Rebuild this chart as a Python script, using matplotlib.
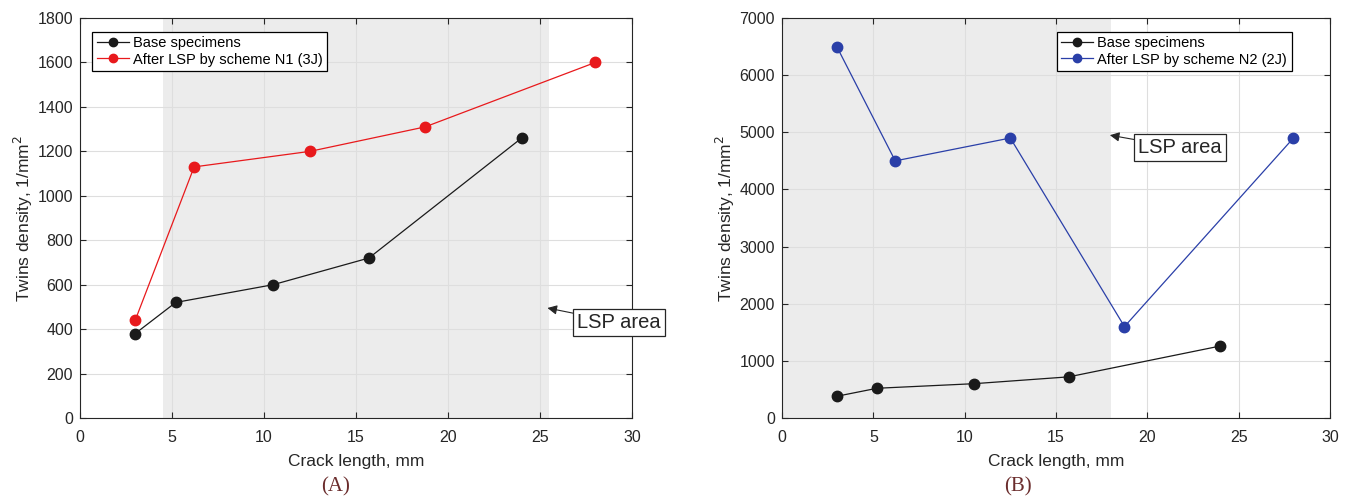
import matplotlib
matplotlib.use("Agg")
import matplotlib.pyplot as plt

# --- datos ---
crack_base = [3, 5.2, 10.5, 15.7, 24]
twins_base = [380, 520, 600, 720, 1260]

crack_lsp = [3, 6.2, 12.5, 18.75, 28]
twins_n1 = [440, 1130, 1200, 1310, 1600]
twins_n2 = [6500, 4500, 4900, 1600, 4900]

lsp_area_a = (4.5, 25.5)
lsp_area_b = (0, 18)

x_ticks = [0, 5, 10, 15, 20, 25, 30]
y_ticks_a = list(range(0, 1801, 200))
y_ticks_b = list(range(0, 7001, 1000))

INK = "#262626"
SHADE = "#ececec"
GRID = "#dedede"
BLACK = "#1a1a1a"
RED = "#e8191c"
BLUE = "#2a3fa8"
LABEL = "#6b2d2d"

plt.rcParams["font.family"] = ["Liberation Sans", "DejaVu Sans"]

fig = plt.figure(figsize=(13.52, 5.01), dpi=100)
ax_a = fig.add_axes([0.0592, 0.1657, 0.4083, 0.7983])
ax_b = fig.add_axes([0.5784, 0.1657, 0.4053, 0.7983])


def style_axes(ax, ymax, yticks):
    ax.set_xlim(0, 30)
    ax.set_ylim(0, ymax)
    ax.set_xticks(x_ticks)
    ax.set_yticks(yticks)
    ax.grid(True, color=GRID, linewidth=0.8, zorder=1)
    ax.set_axisbelow(True)
    ax.tick_params(direction="in", top=True, right=True, length=4, width=0.8,
                   colors=INK, labelsize=11.5)
    ax.tick_params(axis="x", pad=9)
    ax.tick_params(axis="y", pad=5)
    for s in ax.spines.values():
        s.set_color(INK)
        s.set_linewidth(0.8)
    ax.set_xlabel("Crack length, mm", fontsize=12.5, color=INK, labelpad=6)
    ax.set_ylabel("Twins density, 1/mm$^2$", fontsize=12.5, color=INK, labelpad=2)


def lsp_legend(ax, loc, anchor):
    leg = ax.legend(loc=loc, bbox_to_anchor=anchor, fontsize=10.5,
                    fancybox=False, framealpha=1, edgecolor="black", borderpad=0.3,
                    handlelength=2.2, handletextpad=0.3, labelspacing=0.15,
                    borderaxespad=0, markerscale=0.8)
    leg.get_frame().set_linewidth(0.9)


def lsp_note(ax, tip, pos, clip=True):
    ax.annotate("LSP area", xy=tip, xytext=pos, fontsize=14.5,
                color=INK, ha="center", va="center", annotation_clip=clip,
                bbox=dict(boxstyle="square,pad=0.2", fc="white", ec=INK, lw=0.9),
                arrowprops=dict(arrowstyle="-|>", color=INK, lw=0.8,
                                mutation_scale=14, shrinkA=0, shrinkB=0))


# ----- (A) -----
ax_a.axvspan(*lsp_area_a, color=SHADE, zorder=0, lw=0)
ax_a.plot(crack_base, twins_base, "-o", color=BLACK, lw=0.9, ms=7.5,
          label="Base specimens", zorder=3)
ax_a.plot(crack_lsp, twins_n1, "-o", color=RED, mfc=RED, mec=RED, lw=0.9, ms=7.5,
          label="After LSP by scheme N1 (3J)", zorder=3)
style_axes(ax_a, 1800, y_ticks_a)
lsp_legend(ax_a, "upper left", (0.022, 0.965))
lsp_note(ax_a, (25.4, 495), (29.3, 430), clip=False)

# ----- (B) -----
ax_b.axvspan(*lsp_area_b, color=SHADE, zorder=0, lw=0)
ax_b.plot(crack_base, twins_base, "-o", color=BLACK, lw=0.9, ms=7.5,
          label="Base specimens", zorder=3)
ax_b.plot(crack_lsp, twins_n2, "-o", color=BLUE, mfc=BLUE, mec=BLUE, lw=0.9, ms=7.5,
          label="After LSP by scheme N2 (2J)", zorder=3)
style_axes(ax_b, 7000, y_ticks_b)
lsp_legend(ax_b, "upper right", (0.93, 0.965))
lsp_note(ax_b, (17.95, 4950), (21.8, 4730))

fig.text(336 / 1352, 1 - 487 / 501, "(A)", fontsize=15, color=LABEL,
         family="Liberation Serif", ha="center", va="center")
fig.text(1018 / 1352, 1 - 487 / 501, "(B)", fontsize=15, color=LABEL,
         family="Liberation Serif", ha="center", va="center")

fig.savefig("out.png", dpi=100, facecolor="white")
